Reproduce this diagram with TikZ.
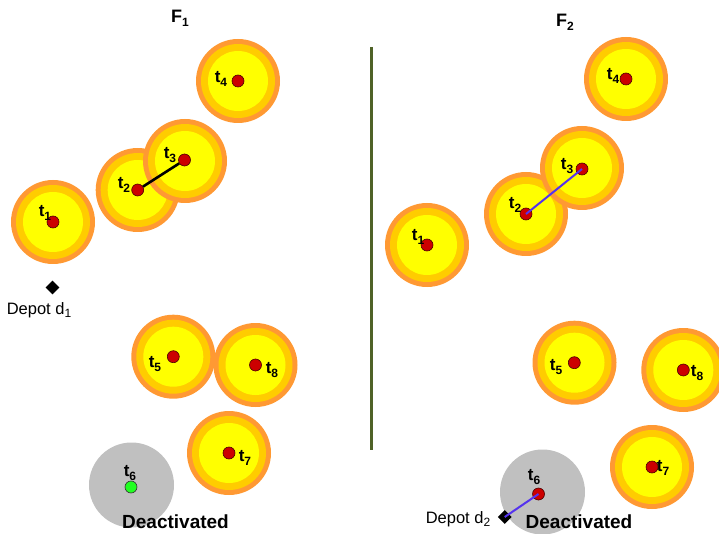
\documentclass[tikz,border=0pt]{standalone}
\usepackage{fontspec}
\setmainfont{Liberation Sans}
\usetikzlibrary{shapes.geometric}

\definecolor{haloOut}{HTML}{FF9933}
\definecolor{haloMid}{HTML}{FFCC00}
\definecolor{haloIn}{HTML}{FFFF00}
\definecolor{taskRed}{HTML}{CC0000}
\definecolor{taskGreen}{HTML}{22FF22}
\definecolor{offGray}{HTML}{C0C0C0}
\definecolor{divider}{HTML}{4F6228}
\definecolor{routeBlue}{HTML}{5533EE}

\newcommand{\lowsub}[1]{\raisebox{-0.45ex}{\fontsize{12}{12}\selectfont #1}}
\newcommand{\tsk}[1]{t\lowsub{#1}}

% halo around an active task: three concentric discs
\newcommand{\halo}[1]{%
  \fill[haloOut] (#1) circle[radius=42];
  \fill[haloMid] (#1) circle[radius=37];
  \fill[haloIn]  (#1) circle[radius=30];
}

\tikzset{
  x=1pt, y=-1pt,
  taskdot/.style={circle, draw=black!70!red, line width=0.6pt, fill=taskRed,
                  minimum size=12pt, inner sep=0pt},
  offdot/.style={taskdot, draw=black!80, fill=taskGreen},
  tlabel/.style={font=\fontsize{17}{17}\selectfont\bfseries, inner sep=0pt},
  depotlabel/.style={font=\fontsize{16.5}{16.5}\selectfont, inner sep=0pt},
  depot/.style={diamond, fill=black, minimum size=14pt, inner sep=0pt},
  deact/.style={font=\fontsize{19}{19}\selectfont\bfseries, inner sep=0pt},
  title/.style={font=\fontsize{18}{18}\selectfont\bfseries, inner sep=0pt},
}

\begin{document}
\begin{tikzpicture}
\useasboundingbox (0,0) rectangle (719,534);

% ---------------- left panel: F1 ----------------
\halo{238,81}
\halo{137.7,190}
\halo{185,161}
\halo{53,222}
\halo{173.3,356.7}
\halo{255.5,365}
\halo{229,453}
\fill[offGray] (131.5,485) circle[radius=42.5];

\node[title] (F1) at (180,18) {F\lowsub{1}};

\node[taskdot] (L4) at (238,81) {};
\node[taskdot] (L2) at (137.7,190) {};
\node[taskdot] (L3) at (184.5,160) {};
\node[taskdot] (L1) at (53,222) {};
\node[taskdot] (L5) at (173.3,356.7) {};
\node[taskdot] (L8) at (255.5,365) {};
\node[taskdot] (L7) at (229,453) {};
\node[offdot]  (L6) at (131,487) {};

\draw[line width=2.6pt, black] (L2) -- (L3);

\node[tlabel] at (221,79) {\tsk{4}};
\node[tlabel] at (170,155) {\tsk{3}};
\node[tlabel] at (124,185) {\tsk{2}};
\node[tlabel] at (45,213) {\tsk{1}};
\node[tlabel] at (155,364) {\tsk{5}};
\node[tlabel] at (272,370) {\tsk{8}};
\node[tlabel] at (245,458) {\tsk{7}};
\node[tlabel] at (130,473) {\tsk{6}};

\node[depot] (D1) at (52.5,287.5) {};
\node[depotlabel] (D1lab) at (39,310) {Depot d\lowsub{1}};
\node[deact] (X1) at (175.5,522) {Deactivated};

% ---------------- divider ----------------
\coordinate (divTop) at (371,47);
\coordinate (divBot) at (371,450);
\draw[divider, line width=3pt] (divTop) -- (divBot);

% ---------------- right panel: F2 ----------------
\halo{626,79}
\halo{526,214}
\halo{582,168}
\halo{427,245}
\halo{574.5,362.7}
\halo{683.3,370}
\halo{652,467}
\fill[offGray] (542.5,492) circle[radius=42.5];

\node[title] (F2) at (565,22) {F\lowsub{2}};

\node[taskdot] (R4) at (626,79) {};
\node[taskdot] (R2) at (526,214) {};
\node[taskdot] (R3) at (582,169) {};
\node[taskdot] (R1) at (427,245) {};
\node[taskdot] (R5) at (574.3,362.7) {};
\node[taskdot] (R8) at (683.3,370) {};
\node[taskdot] (R7) at (652,467) {};
\node[taskdot] (R6) at (538.5,494) {};

\node[tlabel] at (613,76) {\tsk{4}};
\node[tlabel] at (567,166) {\tsk{3}};
\node[tlabel] at (515,205) {\tsk{2}};
\node[tlabel] at (418,237) {\tsk{1}};
\node[tlabel] at (556,367) {\tsk{5}};
\node[tlabel] at (697,373) {\tsk{8}};
\node[tlabel] at (663,468) {\tsk{7}};
\node[tlabel] at (534,477) {\tsk{6}};

\node[depot] (D2) at (504.7,517) {};
\node[depotlabel] (D2lab) at (458,519) {Depot d\lowsub{2}};
\node[deact] (X2) at (579,522) {Deactivated};

\draw[routeBlue, line width=2pt] (R2.center) -- (R3.center);
\draw[routeBlue, line width=2pt] (R6.center) -- (D2.center);
\end{tikzpicture}
\end{document}
